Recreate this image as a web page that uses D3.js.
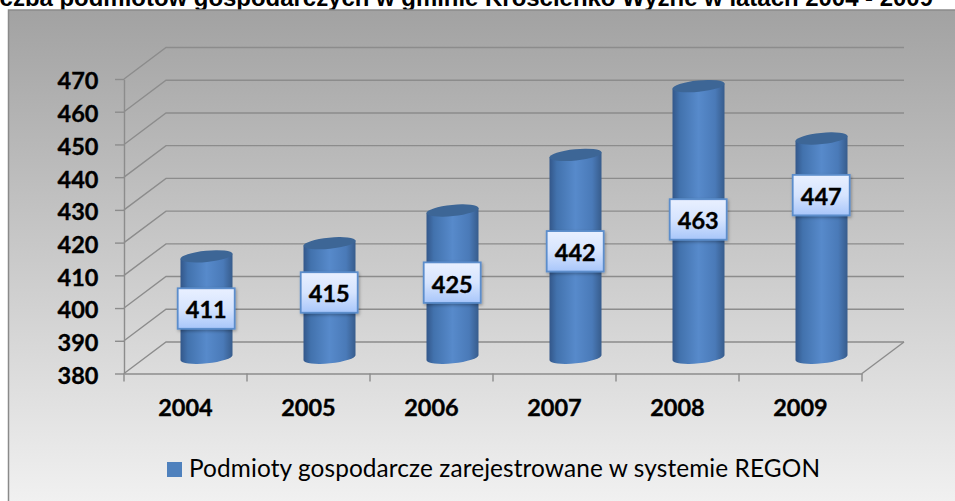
<!DOCTYPE html>
<html>
<head>
<meta charset="utf-8">
<script src="https://d3js.org/d3.v7.min.js"></script>
<style>
  html, body { margin: 0; padding: 0; background: #fff; }
  svg { display: block; }
</style>
</head>
<body>
<svg id="chart" width="955" height="501"></svg>
<script>
const years = ["2004", "2005", "2006", "2007", "2008", "2009"];
const values = [411, 415, 425, 442, 463, 447];
const yTicks = [380, 390, 400, 410, 420, 430, 440, 450, 460, 470];
const titleText = "Liczba podmiotów gospodarczych w gminie Krościenko Wyżne w latach 2004 - 2009";
const legendText = "Podmioty gospodarcze zarejestrowane w systemie REGON";

// the labels in the original were dragged by hand, so they sit off the bar middle
const labelNudge = [1.5, -8, -1.5, -5, -2.5, -53];

const svg = d3.select("#chart");
const defs = svg.append("defs");

const x = d3.scaleBand().domain(years).range([124, 862]);
const y = d3.scaleLinear().domain([380, 470]).range([373.5, 79]);

// oblique depth of the 3d box
const depthX = 42, depthY = -31.5;
const radius = 26, tilt = 2.6, ry = 5.6;

function vgrad(id, stops) {
  const g = defs.append("linearGradient").attr("id", id)
    .attr("x1", 0).attr("y1", 0).attr("x2", 0).attr("y2", 1);
  stops.forEach(s => g.append("stop").attr("offset", s[0]).attr("stop-color", s[1]));
}
vgrad("bg", [[0, "#a2a2a2"], [1, "#f2f2f2"]]);
vgrad("labelFill", [[0, "#e9f0ff"], [0.5, "#d6e4fe"], [1, "#a8c6fa"]]);

const barGrad = defs.append("linearGradient").attr("id", "barFill")
  .attr("x1", 0).attr("y1", 0).attr("x2", 1).attr("y2", 0);
[[0, "#33578a"], [0.14, "#4272ad"], [0.5, "#578acb"], [0.82, "#4a7ab8"], [1, "#375c8c"]]
  .forEach(s => barGrad.append("stop").attr("offset", s[0]).attr("stop-color", s[1]));

const shadow = defs.append("filter").attr("id", "soft")
  .attr("x", "-20%").attr("y", "-20%").attr("width", "140%").attr("height", "140%");
shadow.append("feDropShadow").attr("dx", 1).attr("dy", 1.5).attr("stdDeviation", 1.5)
  .attr("flood-color", "#000").attr("flood-opacity", 0.3);

// title is cropped by the top and left edge, same as in the source picture
svg.append("text")
  .attr("x", 933).attr("y", 6)
  .attr("text-anchor", "end")
  .attr("font-family", "'Liberation Sans', Arial, sans-serif")
  .attr("font-weight", "bold").attr("font-size", 23.95)
  .attr("fill", "#000")
  .text(titleText);

// frame runs off the right and bottom of the picture
svg.append("rect")
  .attr("x", 8.5).attr("y", 10).attr("width", 960).attr("height", 500)
  .attr("fill", "url(#bg)").attr("stroke", "#8a8a8a").attr("stroke-width", 1.5);

const gridColor = "#8c8c8c";
const x0 = x.range()[0], x1 = x.range()[1];

function boldLabel(sel) {
  sel.attr("font-family", "Lato, sans-serif").attr("font-weight", "bold")
    .attr("font-size", 23.5).attr("fill", "#000")
    .attr("stroke", "#000").attr("stroke-width", 0.35);
}

// back wall lines and side wall diagonals
const grid = svg.append("g").attr("fill", "none").attr("stroke", gridColor).attr("stroke-width", 1.4);
grid.selectAll("path.wall").data(yTicks).join("path").attr("class", "wall")
  .attr("d", v => d3.line()([[x0, y(v)], [x0 + depthX, y(v) + depthY], [x1 + depthX, y(v) + depthY]]));
grid.append("path")
  .attr("d", d3.line()([[x1, y(380)], [x1 + depthX, y(380) + depthY]]));

// y axis
const yAxis = svg.append("g")
  .attr("transform", `translate(${x0},0)`)
  .call(d3.axisLeft(y).tickValues(yTicks).tickSize(9).tickPadding(16.5).tickSizeOuter(0));
yAxis.selectAll("line, path").attr("stroke", gridColor).attr("stroke-width", 1.4);
yAxis.selectAll("text").call(boldLabel).attr("dy", "0.42em");

// x axis, ticks go between the categories
const xAxis = svg.append("g")
  .attr("transform", `translate(0,${y(380)})`)
  .call(d3.axisBottom(x).tickSize(0).tickPadding(26).tickSizeOuter(0));
xAxis.select("path").attr("stroke", gridColor).attr("stroke-width", 1.6);
xAxis.selectAll("text").call(boldLabel);
xAxis.selectAll("line.edge")
  .data(d3.range(years.length + 1))
  .join("line").attr("class", "edge")
  .attr("x1", i => x0 + i * x.step()).attr("x2", i => x0 + i * x.step())
  .attr("y1", 0).attr("y2", 8)
  .attr("stroke", gridColor).attr("stroke-width", 1.4);

// cylinders
const cx = d => x(d) + x.bandwidth() / 2 + depthX / 2;
const barY = v => y(v) + depthY / 2;
const rot = -Math.atan2(tilt, radius) * 180 / Math.PI;

function cylinderPath(d, v) {
  const c = cx(d), top = barY(v), base = barY(380);
  return `M${c - radius},${top + tilt}` +
    `L${c - radius},${base + tilt}` +
    `A${radius},${ry} ${rot} 0 0 ${c + radius},${base - tilt}` +
    `L${c + radius},${top - tilt}Z`;
}

const bars = svg.append("g").selectAll("g").data(years).join("g");
bars.append("path")
  .attr("d", (d, i) => cylinderPath(d, values[i]))
  .attr("fill", "url(#barFill)");
bars.append("ellipse")
  .attr("rx", radius + 0.2).attr("ry", ry)
  .attr("transform", (d, i) => `translate(${cx(d)},${barY(values[i])}) rotate(${rot})`)
  .attr("fill", "#3d6696");

// data labels
const labelW = 57, labelH = 40.5;
const labels = svg.append("g").selectAll("g").data(years).join("g")
  .attr("transform", (d, i) => {
    const mid = (barY(values[i]) + barY(380)) / 2 + labelNudge[i];
    return `translate(${cx(d) - 0.3},${mid})`;
  });
labels.append("rect")
  .attr("x", -labelW / 2).attr("y", -labelH / 2)
  .attr("width", labelW).attr("height", labelH)
  .attr("fill", "url(#labelFill)")
  .attr("stroke", "#5b8dcb").attr("stroke-width", 1.8)
  .attr("filter", "url(#soft)");
labels.append("text")
  .attr("text-anchor", "middle").attr("dy", "0.42em")
  .call(boldLabel)
  .text((d, i) => values[i]);

// legend
svg.append("rect")
  .attr("x", 167).attr("y", 462).attr("width", 15).attr("height", 15)
  .attr("fill", "#4f81bd");
svg.append("text")
  .attr("x", 189).attr("y", 477)
  .attr("font-family", "Lato, sans-serif")
  .attr("font-size", 24.4).attr("fill", "#000")
  .attr("textLength", 631).attr("lengthAdjust", "spacing")
  .text(legendText);
</script>
</body>
</html>
